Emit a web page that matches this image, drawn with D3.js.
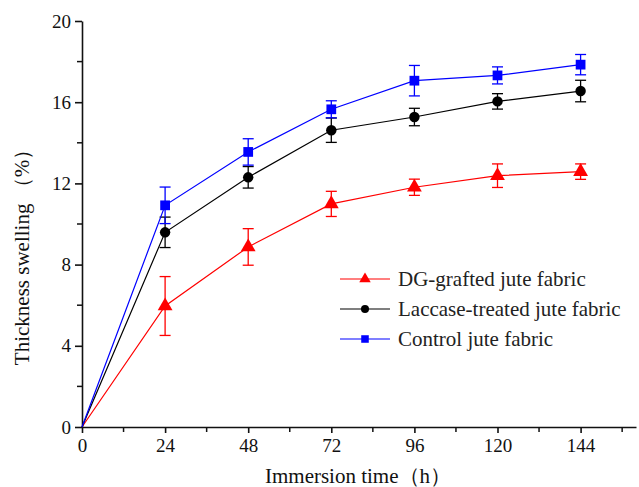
<!DOCTYPE html>
<html>
<head>
<meta charset="utf-8">
<script src="https://cdn.jsdelivr.net/npm/d3@7"></script>
<style>
  body { margin: 0; background: #fff; }
  svg text { font-family: 'Liberation Serif', 'Times New Roman', serif !important; }
</style>
</head>
<body>
<svg id="chart" width="639" height="487" font-family="Liberation Serif"></svg>
<script>
// data
var hours = [0, 24, 48, 72, 96, 120, 144];
var dgGrafted = [0, 5.96, 8.87, 10.99, 11.81, 12.38, 12.58];
var dgGraftedErr = [0, 1.45, 0.9, 0.62, 0.4, 0.58, 0.38];
var laccase = [0, 9.59, 12.3, 14.62, 15.27, 16.04, 16.55];
var laccaseErr = [0, 0.75, 0.53, 0.6, 0.43, 0.38, 0.53];
var control = [0, 10.92, 13.55, 15.65, 17.06, 17.32, 17.85];
var controlErr = [0, 0.9, 0.65, 0.42, 0.75, 0.42, 0.5];
var xTicks = [0, 24, 48, 72, 96, 120, 144];
var yTicks = [0, 4, 8, 12, 16, 20];

var series = [
  { name: 'DG-grafted jute fabric', values: dgGrafted, err: dgGraftedErr, color: '#ff0000', symbol: d3.symbolTriangle, size: 95 },
  { name: 'Laccase-treated jute fabric', values: laccase, err: laccaseErr, color: '#000000', symbol: d3.symbolCircle, size: 85 },
  { name: 'Control jute fabric', values: control, err: controlErr, color: '#0000ff', symbol: d3.symbolSquare, size: 95 }
];

var FONT = 'Liberation Serif';

var width = 639, height = 487;
var margin = { left: 82, right: 3, top: 21, bottom: 60 };

var svg = d3.select('#chart');

var x = d3.scaleLinear().domain([0, 160]).range([margin.left, width - margin.right]);
var y = d3.scaleLinear().domain([0, 20]).range([height - margin.bottom, margin.top]);

// minor ticks
var xMinor = d3.range(12, 160, 24);
var yMinor = d3.range(2, 20, 4);

var gx = svg.append('g').attr('transform', 'translate(0,' + y(0) + ')');
gx.call(d3.axisBottom(x).tickValues(xTicks).tickSize(6).tickPadding(6).tickSizeOuter(0));
gx.selectAll('.minor').data(xMinor).enter().append('line')
  .attr('x1', function(d) { return x(d); }).attr('x2', function(d) { return x(d); })
  .attr('y1', 0).attr('y2', 5).attr('stroke', '#111').attr('stroke-width', 1.5);

var gy = svg.append('g').attr('transform', 'translate(' + x(0) + ',0)');
gy.call(d3.axisLeft(y).tickValues(yTicks).tickSize(7).tickPadding(4).tickSizeOuter(0));
gy.selectAll('.minor').data(yMinor).enter().append('line')
  .attr('y1', function(d) { return y(d); }).attr('y2', function(d) { return y(d); })
  .attr('x1', 0).attr('x2', -5).attr('stroke', '#111').attr('stroke-width', 1.5);

gx.attr('font-family', FONT);
gy.attr('font-family', FONT);
svg.selectAll('.domain, .tick line').attr('stroke', '#111').attr('stroke-width', 1.6);
svg.selectAll('.tick text')
  .style('font-family', FONT, 'important').attr('font-size', 19).attr('fill', '#111');

// series
series.forEach(function(s) {
  var g = svg.append('g');
  var pts = hours.map(function(h, i) { return { h: h, v: s.values[i], e: s.err[i] }; });

  var line = d3.line()
    .x(function(d) { return x(d.h); })
    .y(function(d) { return y(d.v); });

  g.append('path').datum(pts)
    .attr('fill', 'none')
    .attr('stroke', s.color)
    .attr('stroke-width', 1.2)
    .attr('d', line);

  var eb = g.selectAll('.err').data(pts.filter(function(d) { return d.e > 0; })).enter().append('g')
    .attr('stroke', s.color).attr('stroke-width', 1.3);
  eb.append('line')
    .attr('x1', function(d) { return x(d.h); }).attr('x2', function(d) { return x(d.h); })
    .attr('y1', function(d) { return y(d.v - d.e); }).attr('y2', function(d) { return y(d.v + d.e); });
  eb.append('line')
    .attr('x1', function(d) { return x(d.h) - 5.5; }).attr('x2', function(d) { return x(d.h) + 5.5; })
    .attr('y1', function(d) { return y(d.v + d.e); }).attr('y2', function(d) { return y(d.v + d.e); });
  eb.append('line')
    .attr('x1', function(d) { return x(d.h) - 5.5; }).attr('x2', function(d) { return x(d.h) + 5.5; })
    .attr('y1', function(d) { return y(d.v - d.e); }).attr('y2', function(d) { return y(d.v - d.e); });

  g.selectAll('.mark').data(pts.filter(function(d) { return d.h > 0; })).enter().append('path')
    .attr('transform', function(d) { return 'translate(' + x(d.h) + ',' + y(d.v) + ')'; })
    .attr('d', d3.symbol().type(s.symbol).size(s.size))
    .attr('fill', s.color);
});

// legend
var legend = svg.append('g').attr('transform', 'translate(340,279)');
series.forEach(function(s, i) {
  var row = legend.append('g').attr('transform', 'translate(0,' + (i * 30) + ')');
  row.append('line').attr('x1', 0).attr('x2', 50).attr('y1', 0).attr('y2', 0)
    .attr('stroke', s.color).attr('stroke-width', 1.2);
  row.append('path').attr('transform', 'translate(25,0)')
    .attr('d', d3.symbol().type(s.symbol).size(s.size * 0.6))
    .attr('fill', s.color);
  row.append('text').attr('x', 58).attr('y', 0).attr('dy', '0.35em')
    .style('font-family', FONT, 'important').attr('font-size', 21).attr('fill', '#222').text(s.name);
});

// axis titles
svg.append('text')
  .attr('x', 358).attr('y', 483)
  .attr('text-anchor', 'middle')
  .style('font-family', FONT, 'important').attr('font-size', 21).attr('fill', '#111')
  .text('Immersion time（h）');

svg.append('text')
  .attr('transform', 'translate(29,252) rotate(-90)')
  .attr('text-anchor', 'middle')
  .style('font-family', FONT, 'important').attr('font-size', 21).attr('fill', '#111')
  .text('Thickness swelling （%）');
</script>
</body>
</html>
